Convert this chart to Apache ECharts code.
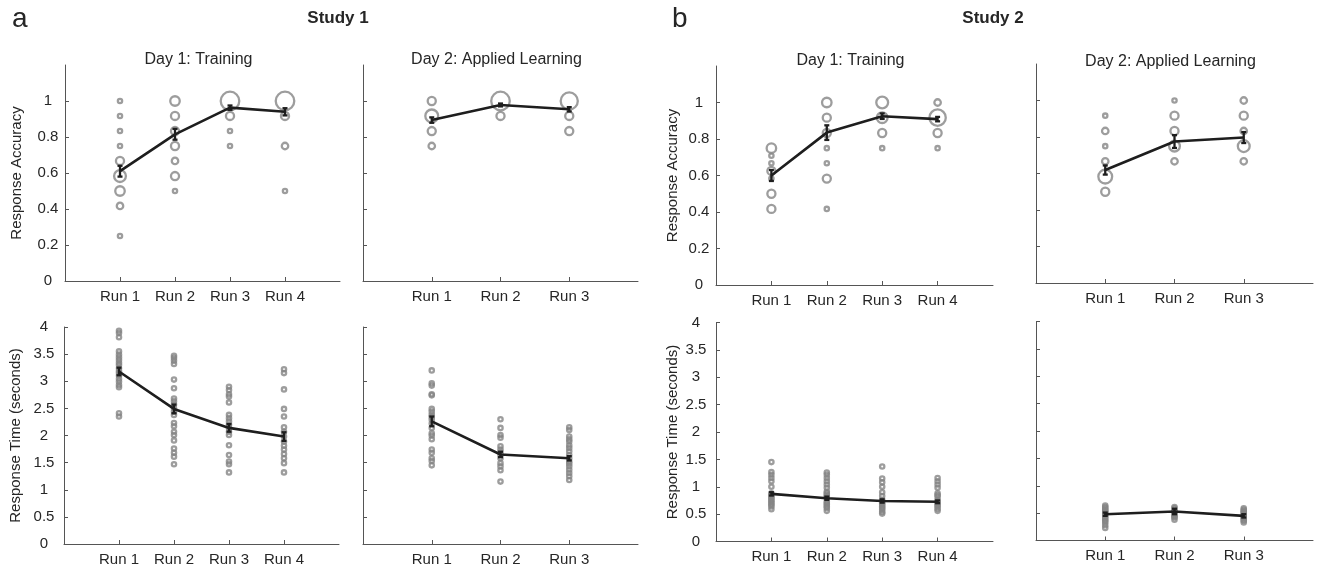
<!DOCTYPE html>
<html>
<head>
<meta charset="utf-8">
<script src="https://cdn.jsdelivr.net/npm/echarts@6/dist/echarts.min.js"></script>
<style>
html, body { margin: 0; background: #fff; }
#chart { width: 1317px; height: 570px; }
</style>
</head>
<body>
<div id="chart"></div>
<script>
// runs on the x axis
var runs4 = [1, 2, 3, 4];
var runs3 = [1, 2, 3];
var accTicks = [0, 0.2, 0.4, 0.6, 0.8, 1];
var rtTicks = [0, 0.5, 1, 1.5, 2, 2.5, 3, 3.5, 4];

// accuracy: per run, [accuracy, number of participants]
var s1AccDay1 = [
    [[1, 1], [0.917, 1], [0.833, 1], [0.75, 1], [0.667, 3], [0.583, 6], [0.5, 4], [0.417, 2], [0.25, 1]],
    [[1, 4], [0.917, 3], [0.833, 3], [0.75, 3], [0.667, 2], [0.583, 3], [0.5, 1]],
    [[1, 14], [0.917, 3], [0.833, 1], [0.75, 1]],
    [[1, 14], [0.917, 3], [0.75, 2], [0.5, 1]]
];
var s1AccDay2 = [
    [[1, 3], [0.917, 7], [0.833, 3], [0.75, 2]],
    [[1, 14], [0.917, 3]],
    [[1, 12], [0.917, 3], [0.833, 3]]
];
var s2AccDay1 = [
    [[0.75, 4], [0.708, 1], [0.667, 1], [0.625, 3], [0.583, 1], [0.5, 3], [0.417, 3]],
    [[1, 4], [0.917, 3], [0.833, 3], [0.75, 1], [0.667, 1], [0.583, 3], [0.417, 1]],
    [[1, 6], [0.917, 5], [0.833, 3], [0.75, 1]],
    [[1, 2], [0.917, 11], [0.833, 3], [0.75, 1]]
];
var s2AccDay2 = [
    [[0.917, 1], [0.833, 2], [0.75, 1], [0.667, 2], [0.583, 8], [0.5, 3]],
    [[1, 1], [0.917, 3], [0.833, 3], [0.75, 5], [0.667, 2]],
    [[1, 2], [0.917, 3], [0.833, 2], [0.75, 6], [0.667, 2]]
];

// response time (seconds), one value per participant
var s1RtDay1 = [
    [3.93, 3.89, 3.81, 3.55, 3.49, 3.44, 3.39, 3.34, 3.30, 3.24, 3.19, 3.15, 3.10, 3.04, 2.99, 2.93, 2.89, 2.41, 2.35],
    [3.47, 3.43, 3.38, 3.32, 3.03, 2.87, 2.68, 2.63, 2.57, 2.50, 2.44, 2.38, 2.23, 2.17, 2.07, 2.01, 1.91, 1.76, 1.68, 1.61, 1.47],
    [2.90, 2.84, 2.76, 2.72, 2.61, 2.38, 2.32, 2.26, 2.20, 2.14, 2.07, 2.01, 1.82, 1.64, 1.52, 1.47, 1.32],
    [3.22, 3.15, 2.85, 2.49, 2.35, 2.15, 2.07, 1.98, 1.89, 1.81, 1.74, 1.66, 1.58, 1.49, 1.32]
];
var s1RtDay2 = [
    [3.20, 2.96, 2.92, 2.76, 2.74, 2.49, 2.44, 2.38, 2.34, 2.29, 2.22, 2.14, 2.04, 2.00, 1.93, 1.74, 1.68, 1.58, 1.53, 1.45],
    [2.30, 2.14, 2.01, 1.96, 1.80, 1.74, 1.69, 1.64, 1.58, 1.49, 1.43, 1.36, 1.15],
    [2.15, 2.10, 1.98, 1.93, 1.89, 1.82, 1.77, 1.71, 1.64, 1.58, 1.52, 1.48, 1.43, 1.37, 1.31, 1.25, 1.18]
];
var s2RtDay1 = [
    [1.45, 1.27, 1.22, 1.16, 1.10, 1.00, 0.88, 0.85, 0.82, 0.79, 0.76, 0.73, 0.70, 0.67, 0.64, 0.59],
    [1.26, 1.22, 1.16, 1.10, 1.04, 0.98, 0.91, 0.88, 0.85, 0.82, 0.79, 0.73, 0.70, 0.67, 0.64, 0.61, 0.56],
    [1.37, 1.15, 1.08, 1.00, 0.90, 0.83, 0.76, 0.73, 0.70, 0.67, 0.64, 0.61, 0.58, 0.54, 0.51],
    [1.16, 1.10, 1.04, 0.98, 0.88, 0.85, 0.82, 0.76, 0.73, 0.70, 0.67, 0.64, 0.60, 0.56]
];
var s2RtDay2 = [
    [0.64, 0.61, 0.59, 0.56, 0.54, 0.52, 0.50, 0.47, 0.45, 0.42, 0.39, 0.36, 0.33, 0.28, 0.23],
    [0.61, 0.59, 0.56, 0.53, 0.51, 0.49, 0.46, 0.44, 0.42, 0.38],
    [0.59, 0.56, 0.54, 0.52, 0.50, 0.47, 0.45, 0.43, 0.41, 0.38, 0.36, 0.33]
];

// group means and standard errors
var s1AccDay1Mean = [0.61, 0.815, 0.963, 0.94];
var s1AccDay1Err = [0.03, 0.03, 0.012, 0.02];
var s1AccDay2Mean = [0.894, 0.978, 0.954];
var s1AccDay2Err = [0.015, 0.008, 0.012];
var s1RtDay1Mean = [3.18, 2.49, 2.14, 1.98];
var s1RtDay1Err = [0.07, 0.08, 0.07, 0.08];
var s1RtDay2Mean = [2.26, 1.65, 1.58];
var s1RtDay2Err = [0.09, 0.05, 0.04];
var s2AccDay1Mean = [0.60, 0.835, 0.925, 0.909];
var s2AccDay1Err = [0.03, 0.04, 0.015, 0.012];
var s2AccDay2Mean = [0.619, 0.775, 0.797];
var s2AccDay2Err = [0.025, 0.035, 0.03];
var s2RtDay1Mean = [0.87, 0.79, 0.74, 0.725];
var s2RtDay1Err = [0.03, 0.03, 0.03, 0.025];
var s2RtDay2Mean = [0.48, 0.53, 0.45];
var s2RtDay2Err = [0.03, 0.05, 0.03];

var textColor = '#262626';
var axisColor = '#555555';
var dotColor = '#858585';
var lineColor = '#1e1e1e';
var fontFamily = '"Liberation Sans", Arial, Helvetica, sans-serif';

// one entry per subplot: [left, top, width, height]
var panels = [
    { rect: [65, 65, 275, 216], runs: runs4, kind: 'acc', pts: s1AccDay1, mean: s1AccDay1Mean, err: s1AccDay1Err, labels: true, gap: 41, title: 'Day 1: Training', titleY: 60 },
    { rect: [363, 65, 275, 216], runs: runs3, kind: 'acc', pts: s1AccDay2, mean: s1AccDay2Mean, err: s1AccDay2Err, labels: false, title: 'Day 2: Applied Learning', titleY: 60 },
    { rect: [64, 327, 275, 217], runs: runs4, kind: 'rt', pts: s1RtDay1, mean: s1RtDay1Mean, err: s1RtDay1Err, labels: true, gap: 41 },
    { rect: [363, 327, 275, 217], runs: runs3, kind: 'rt', pts: s1RtDay2, mean: s1RtDay2Mean, err: s1RtDay2Err, labels: false },
    { rect: [716, 66, 277, 219], runs: runs4, kind: 'acc', pts: s2AccDay1, mean: s2AccDay1Mean, err: s2AccDay1Err, labels: true, gap: 36, title: 'Day 1: Training', titleY: 61 },
    { rect: [1036, 64, 277, 219], runs: runs3, kind: 'acc', pts: s2AccDay2, mean: s2AccDay2Mean, err: s2AccDay2Err, labels: false, title: 'Day 2: Applied Learning', titleY: 62 },
    { rect: [716, 322.5, 277, 219], runs: runs4, kind: 'rt', pts: s2RtDay1, mean: s2RtDay1Mean, err: s2RtDay1Err, labels: true, gap: 36 },
    { rect: [1036, 321.5, 277, 219], runs: runs3, kind: 'rt', pts: s2RtDay2, mean: s2RtDay2Mean, err: s2RtDay2Err, labels: false }
];

var grids = [], xAxes = [], yAxes = [], series = [];
var graphics = [];

panels.forEach(function (p, i) {
    grids.push({ left: p.rect[0], top: p.rect[1], width: p.rect[2], height: p.rect[3], containLabel: false, outerBoundsMode: 'none' });

    xAxes.push({
        gridIndex: i, type: 'value', min: 0, max: p.runs.length + 1,
        axisLine: { lineStyle: { color: axisColor, width: 1 } },
        axisTick: { inside: true, length: 4, customValues: p.runs, lineStyle: { color: axisColor } },
        axisLabel: { customValues: p.runs, formatter: function (v) { return 'Run ' + v; }, margin: 8,
            color: textColor, fontSize: 15, fontFamily: fontFamily },
        splitLine: { show: false }
    });

    var isAcc = p.kind === 'acc';
    var ticks = isAcc ? accTicks : rtTicks;
    yAxes.push({
        gridIndex: i, type: 'value', min: 0, max: isAcc ? 1.2 : 4, interval: isAcc ? 0.2 : 0.5,
        name: p.labels ? (isAcc ? 'Response Accuracy' : 'Response Time (seconds)') : '',
        nameLocation: 'middle', nameGap: p.gap || 40,
        nameTextStyle: { color: textColor, fontSize: 15, fontFamily: fontFamily },
        axisLine: { show: true, lineStyle: { color: axisColor, width: 1 } },
        axisTick: { show: true, inside: true, length: 4, customValues: ticks, lineStyle: { color: axisColor } },
        axisLabel: { show: p.labels, customValues: ticks, align: 'center', margin: isAcc ? 17 : 20,
            color: textColor, fontSize: 15, fontFamily: fontFamily },
        splitLine: { show: false }
    });

    // individual participants
    var dots = [];
    p.pts.forEach(function (col, r) {
        col.forEach(function (d) {
            if (isAcc) dots.push([p.runs[r], d[0], d[1]]);
            else dots.push([p.runs[r], d, 1]);
        });
    });
    series.push({
        type: 'scatter', xAxisIndex: i, yAxisIndex: i, data: dots,
        symbol: 'circle',
        symbolSize: function (d) { return 5.2 * Math.sqrt(d[2]) - 0.9; },
        itemStyle: { color: 'rgba(255,255,255,0)', borderColor: dotColor, borderWidth: 2.3 },
        z: 2
    });

    // mean line
    series.push({
        type: 'line', xAxisIndex: i, yAxisIndex: i,
        data: p.runs.map(function (r, k) { return [r, p.mean[k]]; }),
        symbol: 'none', lineStyle: { color: lineColor, width: 2.6 }, z: 3
    });

    // error bars
    series.push({
        type: 'custom', xAxisIndex: i, yAxisIndex: i,
        data: p.runs.map(function (r, k) { return [r, p.mean[k], p.err[k]]; }),
        encode: { x: 0, y: 1 },
        renderItem: function (params, api) {
            var x = api.value(0), m = api.value(1), e = api.value(2);
            var lo = api.coord([x, m - e]);
            var hi = api.coord([x, m + e]);
            var hw = 2.5;
            var st = { stroke: lineColor, lineWidth: 2.3 };
            return {
                type: 'group',
                children: [
                    { type: 'line', shape: { x1: lo[0], y1: lo[1], x2: hi[0], y2: hi[1] }, style: st },
                    { type: 'line', shape: { x1: lo[0] - hw, y1: lo[1], x2: lo[0] + hw, y2: lo[1] }, style: st },
                    { type: 'line', shape: { x1: hi[0] - hw, y1: hi[1], x2: hi[0] + hw, y2: hi[1] }, style: st }
                ]
            };
        },
        z: 4
    });

    if (p.title) {
        graphics.push({
            type: 'text', x: p.rect[0] + p.rect[2] / 2 - 4, y: p.titleY,
            style: { text: p.title, fill: textColor, font: '16px ' + fontFamily,
                textAlign: 'center', textVerticalAlign: 'middle', align: 'center', verticalAlign: 'middle' }
        });
    }
});

// figure letters and study headings
[
    { text: 'a', x: 12, y: 19, font: '28px ' + fontFamily, align: 'left' },
    { text: 'Study 1', x: 338, y: 18, font: 'bold 17px ' + fontFamily, align: 'center' },
    { text: 'b', x: 672, y: 19, font: '28px ' + fontFamily, align: 'left' },
    { text: 'Study 2', x: 993, y: 18, font: 'bold 17px ' + fontFamily, align: 'center' }
].forEach(function (t) {
    graphics.push({
        type: 'text', x: t.x, y: t.y,
        style: { text: t.text, fill: textColor, font: t.font,
            textAlign: t.align, textVerticalAlign: 'middle', align: t.align, verticalAlign: 'middle' }
    });
});

var chart = echarts.init(document.getElementById('chart'));
chart.setOption({
    animation: false,
    backgroundColor: '#ffffff',
    grid: grids,
    xAxis: xAxes,
    yAxis: yAxes,
    series: series,
    graphic: graphics
});
</script>
</body>
</html>
